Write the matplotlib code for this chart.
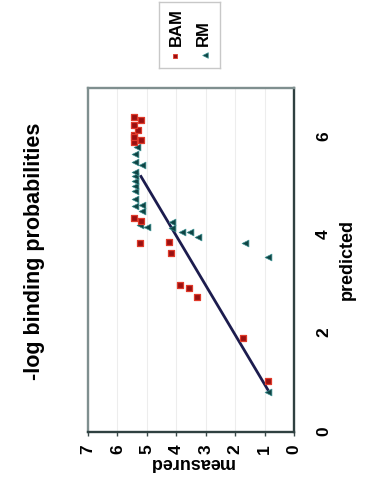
import matplotlib
matplotlib.use("Agg")
import matplotlib.pyplot as plt

plt.rcParams["font.family"] = ["Liberation Sans", "DejaVu Sans"]
plt.rcParams["font.weight"] = "bold"

# The chart is shown turned a quarter turn counter-clockwise:
# "measured" runs along the bottom (7 -> 0), "predicted" runs up the right side.
bam_measured = [0.88, 1.73, 3.30, 3.57, 3.88, 4.18, 4.25, 5.24, 5.45, 5.20,
                5.45, 5.20, 5.45, 5.30, 5.45, 5.45, 5.20, 5.45]
bam_predicted = [1.04, 1.91, 2.75, 2.93, 3.00, 3.64, 3.86, 3.84, 4.35, 4.30,
                 5.90, 5.95, 6.05, 6.15, 6.25, 6.40, 6.35, 6.00]

rm_measured = [0.88, 0.88, 1.67, 3.27, 3.54, 3.80, 4.15, 4.15, 5.00, 5.24,
               5.15, 5.40, 5.15, 5.40, 5.17, 5.40, 5.40, 5.40, 5.40, 5.40,
               5.40, 5.40, 5.35]
rm_predicted = [0.82, 3.56, 3.84, 3.96, 4.07, 4.07, 4.27, 4.15, 4.17, 4.22,
                4.50, 4.60, 4.62, 4.75, 5.43, 4.90, 5.00, 5.10, 5.20, 5.30,
                5.50, 5.65, 5.80]

fit_measured = [0.85, 5.2]
fit_predicted = [0.82, 5.2]

measured_ticks = [0, 1, 2, 3, 4, 5, 6, 7]
predicted_ticks = [0, 2, 4, 6]

fig = plt.figure(figsize=(3.66, 4.92), dpi=100)
ax = fig.add_axes([88 / 366, 1 - 432 / 492, 206 / 366, 344 / 492])

ax.grid(axis="x", color="#ededed", lw=0.8, zorder=0)
ax.plot(fit_measured, fit_predicted, color="#1c1c4e", lw=2, zorder=2)
ax.scatter(rm_measured, rm_predicted, marker="<", s=24, color="#0f4444",
           edgecolors="#3a8f8f", linewidths=0.5, zorder=3)
ax.scatter(bam_measured, bam_predicted, marker="s", s=24, color="#9a1010",
           edgecolors="#e03a2a", linewidths=0.9, zorder=3)

ax.set_xlim(7, 0)
ax.set_ylim(0, 7)
ax.set_xticks(measured_ticks)
ax.set_yticks(predicted_ticks)
ax.yaxis.tick_right()
ax.tick_params(axis="x", labelrotation=90, labelsize=12.5, length=3, width=1,
               color="#3a4a4a", direction="out", pad=6)
ax.tick_params(axis="y", labelrotation=90, labelsize=12.5, length=0, pad=16)
for side, s in ax.spines.items():
    s.set_color("#2f4040" if side in ("bottom", "right") else "#7f8f8f")
    s.set_linewidth(1.7)

ax.set_xlabel("measured", rotation=180, fontsize=13, fontweight="bold")
ax.xaxis.set_label_coords(0.5, (432 - 463) / 344)
ax.xaxis.label.set_va("center")
ax.set_ylabel("predicted", rotation=90, fontsize=13, fontweight="bold")
ax.yaxis.set_label_position("right")
ax.yaxis.set_label_coords((347 - 88) / 206, 0.5)
ax.yaxis.label.set_va("center")
ax.yaxis.label.set_ha("center")

fig.text(35 / 366, 1 - 251 / 492, "-log binding probabilities", rotation=90,
         fontsize=15.5, fontweight="bold", ha="center", va="center")

# legend box, turned like the rest of the chart
lg = fig.add_axes([159 / 366, 1 - 68 / 492, 61 / 366, 66 / 492])
lg.set_xlim(0, 1)
lg.set_ylim(0, 1)
lg.set_xticks([])
lg.set_yticks([])
for s in lg.spines.values():
    s.set_color("#c8c8c8")
    s.set_linewidth(1)
lg.scatter([0.26], [0.18], marker="s", s=12, color="#9a1010", edgecolors="#e03a2a", linewidths=0.6)
lg.scatter([0.75], [0.19], marker="<", s=16, color="#0f4444", edgecolors="#3a8f8f", linewidths=0.5)
lg.text(0.28, 0.33, "BAM", rotation=90, fontsize=12, fontweight="bold", ha="center", va="bottom")
lg.text(0.72, 0.33, "RM", rotation=90, fontsize=12, fontweight="bold", ha="center", va="bottom")

fig.savefig("out.png", dpi=100)
